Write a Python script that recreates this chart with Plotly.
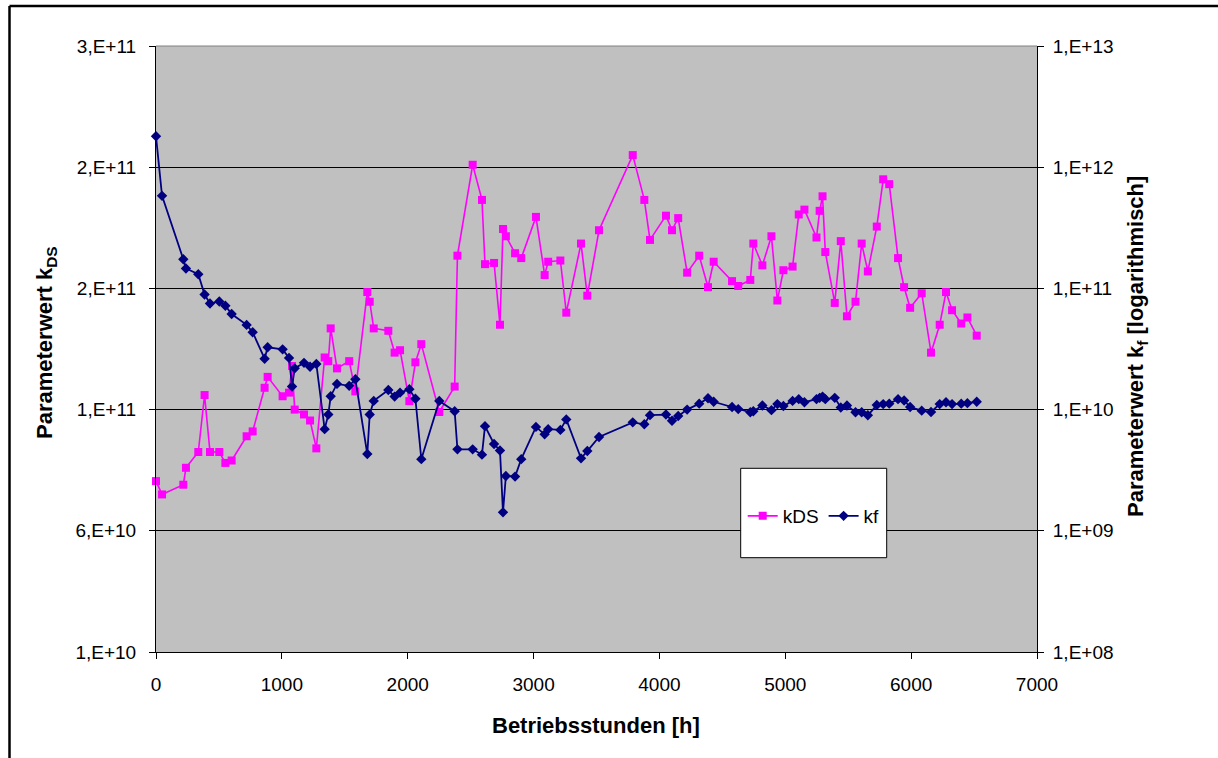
import plotly.graph_objects as go

# Operating hours shared by both parameter series
hours = [0, 48, 217, 238, 336, 386, 429, 503, 551, 601,
         720, 768, 863, 887, 1006, 1057, 1081, 1102, 1176, 1224,
         1274, 1340, 1369, 1388, 1438, 1535, 1584, 1679, 1698, 1730,
         1846, 1896, 1939, 2013, 2061, 2108, 2251, 2373, 2395, 2516,
         2590, 2614, 2686, 2733, 2757, 2780, 2853, 2902, 3019, 3088,
         3116, 3213, 3260, 3377, 3427, 3520, 3788, 3880, 3925, 4052,
         4100, 4149, 4220, 4316, 4386, 4431, 4577, 4626, 4722, 4746,
         4818, 4890, 4937, 4985, 5058, 5107, 5152, 5248, 5273, 5296,
         5318, 5393, 5441, 5490, 5558, 5607, 5656, 5727, 5778, 5826,
         5896, 5944, 5992, 6084, 6158, 6227, 6277, 6325, 6398, 6447,
         6521]

# Parameter kDS (linear, left axis)
kds = [8.05e10, 7.5e10, 7.9e10, 8.6e10, 9.25e10, 1.16e11, 9.25e10, 9.25e10, 8.8e10, 8.9e10,
       9.9e10, 1.01e11, 1.19e11, 1.235e11, 1.155e11, 1.17e11, 1.28e11, 1.10e11, 1.08e11, 1.055e11,
       9.4e10, 1.315e11, 1.30e11, 1.435e11, 1.27e11, 1.30e11, 1.175e11, 1.585e11, 1.545e11, 1.435e11,
       1.425e11, 1.335e11, 1.345e11, 1.135e11, 1.295e11, 1.37e11, 1.09e11, 1.195e11, 1.735e11, 2.11e11,
       1.965e11, 1.70e11, 1.705e11, 1.45e11, 1.845e11, 1.815e11, 1.745e11, 1.725e11, 1.895e11, 1.655e11,
       1.71e11, 1.715e11, 1.50e11, 1.785e11, 1.57e11, 1.84e11, 2.15e11, 1.965e11, 1.80e11, 1.90e11,
       1.84e11, 1.89e11, 1.665e11, 1.735e11, 1.605e11, 1.71e11, 1.63e11, 1.61e11, 1.635e11, 1.785e11,
       1.695e11, 1.815e11, 1.55e11, 1.675e11, 1.69e11, 1.905e11, 1.925e11, 1.81e11, 1.92e11, 1.98e11,
       1.75e11, 1.54e11, 1.795e11, 1.485e11, 1.545e11, 1.785e11, 1.67e11, 1.855e11, 2.05e11, 2.03e11,
       1.725e11, 1.605e11, 1.52e11, 1.58e11, 1.335e11, 1.45e11, 1.585e11, 1.51e11, 1.455e11, 1.48e11,
       1.405e11]

# Parameter kf (logarithmic, right axis)
kf = [1.8e12, 5.8e11, 1.74e11, 1.46e11, 1.31e11, 8.9e10, 7.5e10, 7.8e10, 7.2e10, 6.15e10,
      5.0e10, 4.35e10, 2.63e10, 3.27e10, 3.14e10, 2.67e10, 1.55e10, 2.19e10, 2.43e10, 2.26e10,
      2.38e10, 6.9e9, 9.1e9, 1.29e10, 1.63e10, 1.57e10, 1.78e10, 4.3e9, 9.1e9, 1.18e10,
      1.45e10, 1.28e10, 1.38e10, 1.47e10, 1.23e10, 3.9e9, 1.18e10, 9.7e9, 4.7e9, 4.7e9,
      4.25e9, 7.3e9, 5.2e9, 4.6e9, 1.42e9, 2.83e9, 2.8e9, 3.9e9, 7.2e9, 6.25e9,
      6.9e9, 6.8e9, 8.3e9, 3.96e9, 4.55e9, 5.94e9, 7.85e9, 7.56e9, 9.0e9, 9.1e9,
      8.1e9, 8.85e9, 1.0e10, 1.12e10, 1.24e10, 1.16e10, 1.05e10, 1.01e10, 9.5e9, 9.7e9,
      1.08e10, 9.9e9, 1.11e10, 1.07e10, 1.18e10, 1.22e10, 1.15e10, 1.22e10, 1.25e10, 1.28e10,
      1.22e10, 1.25e10, 1.04e10, 1.08e10, 9.5e9, 9.5e9, 8.97e9, 1.09e10, 1.11e10, 1.12e10,
      1.22e10, 1.19e10, 1.05e10, 9.8e9, 9.55e9, 1.11e10, 1.15e10, 1.11e10, 1.12e10, 1.13e10,
      1.16e10]

x_ticks = [0, 1000, 2000, 3000, 4000, 5000, 6000, 7000]
left_tickvals = [1e10, 6e10, 1.1e11, 1.6e11, 2.1e11, 2.6e11]
left_ticktext = ["1,E+10", "6,E+10", "1,E+11", "2,E+11", "2,E+11", "3,E+11"]
right_tickvals = [1e8, 1e9, 1e10, 1e11, 1e12, 1e13]
right_ticktext = ["1,E+08", "1,E+09", "1,E+10", "1,E+11", "1,E+12", "1,E+13"]

FONT = "Liberation Sans, Arial, Helvetica, sans-serif"
W, H = 1218, 758
L, R, T, B = 156, 181, 46, 106
PW, PH = W - L - R, H - T - B


def px(xp):
    return (xp - L) / PW


def py(yp):
    return (H - B - yp) / PH


fig = go.Figure()
fig.add_trace(go.Scatter(
    x=hours, y=kds, name="kDS", mode="lines+markers",
    line=dict(color="#FF00FF", width=1.6),
    marker=dict(symbol="square", size=8, color="#FF00FF"),
    cliponaxis=False,
))
fig.add_trace(go.Scatter(
    x=hours, y=kf, name="kf", yaxis="y2", mode="lines+markers",
    line=dict(color="#000080", width=1.8),
    marker=dict(symbol="diamond", size=8, color="#000080"),
    cliponaxis=False,
))

axis_common = dict(ticks="outside", ticklen=6, tickcolor="black", tickwidth=1,
                   showline=True, linecolor="black", linewidth=1, zeroline=False,
                   tickfont=dict(family=FONT, size=19, color="black"))

fig.update_layout(
    width=W, height=H,
    margin=dict(l=L, r=R, t=T, b=B, pad=0),
    paper_bgcolor="white",
    plot_bgcolor="#C0C0C0",
    font=dict(family=FONT, color="black"),
    xaxis=dict(range=[0, 7000], tickvals=x_ticks, showgrid=False,
               ticklabelstandoff=9, **axis_common),
    yaxis=dict(range=[1e10, 2.6e11], tickvals=left_tickvals, ticktext=left_ticktext,
               showgrid=True, gridcolor="black", gridwidth=1,
               ticklabelstandoff=9, **axis_common),
    yaxis2=dict(type="log", range=[8, 13], tickvals=right_tickvals, ticktext=right_ticktext,
                overlaying="y", side="right", showgrid=False,
                ticklabelstandoff=5, **axis_common),
    legend=dict(orientation="h", x=px(813.7), y=py(516), xanchor="center", yanchor="middle",
                bgcolor="rgba(0,0,0,0)", borderwidth=0,
                font=dict(family=FONT, size=19, color="black")),
    showlegend=True,
)

shapes = [
    # top edge of plot area
    dict(type="line", xref="paper", yref="paper", x0=0, x1=1, y0=1, y1=1,
         line=dict(color="#808080", width=1), layer="above"),
    # legend frame
    dict(type="rect", xref="paper", yref="paper",
         x0=px(740.7), x1=px(886.7), y0=py(557.7), y1=py(468.3),
         fillcolor="white", line=dict(color="black", width=1), layer="above"),
    # outer chart frame
    dict(type="line", xref="paper", yref="paper", x0=px(9.5), x1=px(9.5), y0=py(6), y1=py(H + 20),
         line=dict(color="black", width=2.5), layer="above"),
    dict(type="line", xref="paper", yref="paper", x0=px(9.5), x1=px(W + 20), y0=py(6), y1=py(6),
         line=dict(color="black", width=2.5), layer="above"),
]
fig.update_layout(shapes=shapes)

title_font = dict(family=FONT, size=22, color="black")
fig.add_annotation(text="<b>Betriebsstunden [h]</b>", xref="paper", yref="paper",
                   x=px(596), y=py(725), xanchor="center", yanchor="middle",
                   showarrow=False, font=title_font)
fig.add_annotation(text="<b>Parameterwert k<sub>DS</sub></b>", xref="paper", yref="paper",
                   x=px(46), y=py(343), xanchor="center", yanchor="middle", textangle=-90,
                   showarrow=False, font=title_font)
fig.add_annotation(text="<b>Parameterwert k<sub>f</sub> [logarithmisch]</b>", xref="paper", yref="paper",
                   x=px(1137), y=py(347), xanchor="center", yanchor="middle", textangle=-90,
                   showarrow=False, font=title_font)

fig.write_html("out.html")
